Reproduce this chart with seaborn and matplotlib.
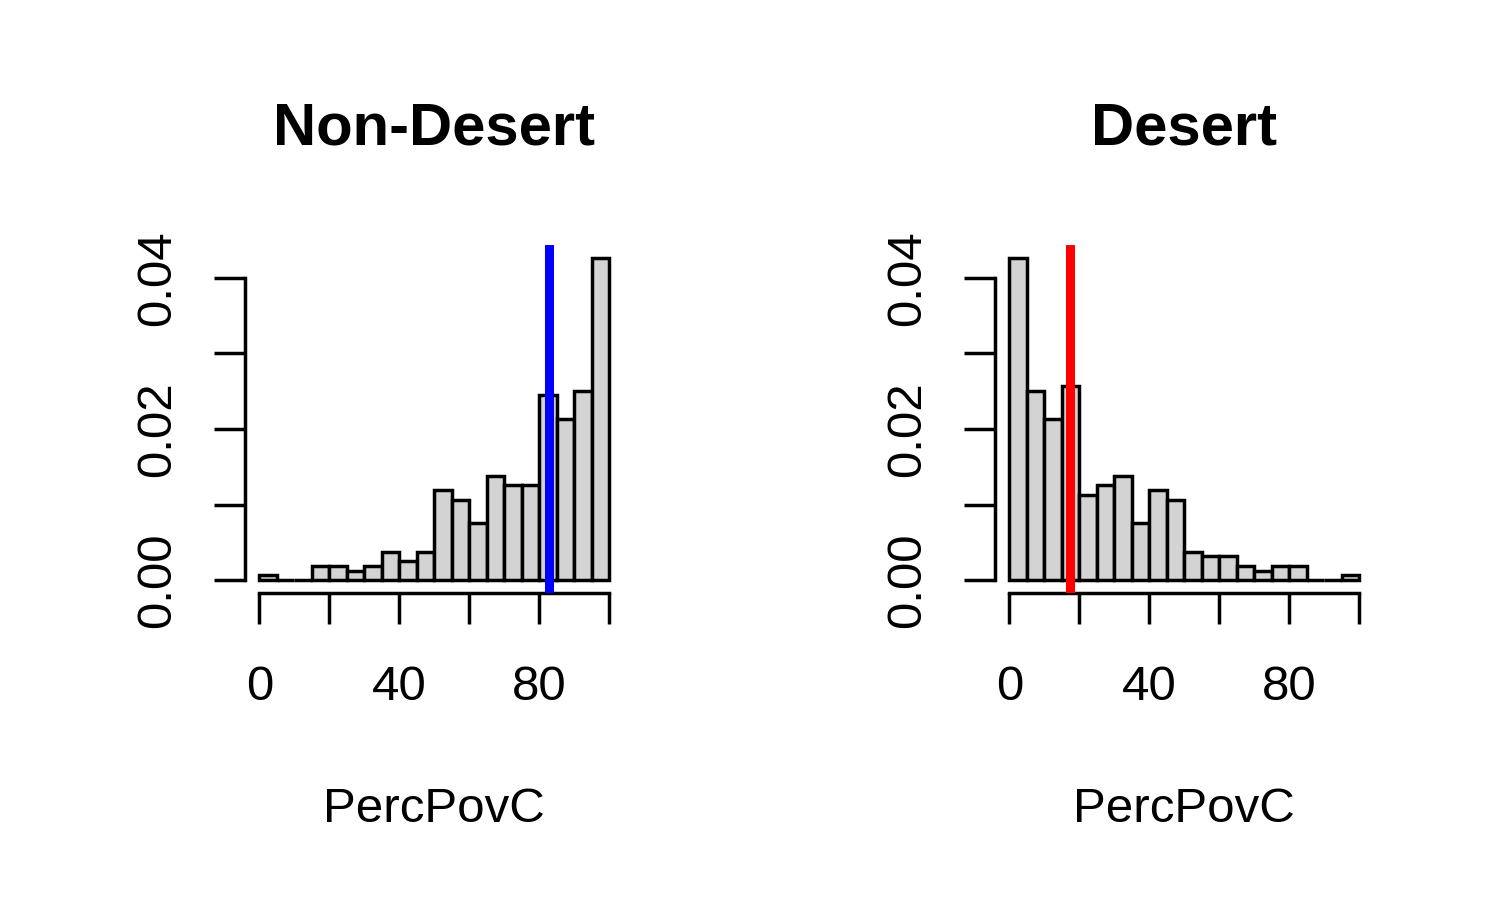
import numpy as np
import matplotlib
matplotlib.use("Agg")
import matplotlib.pyplot as plt
import seaborn as sns

# ---- data ----
bin_edges = list(range(0, 105, 5))
nondesert_counts = [1, 0, 0, 3, 3, 2, 3, 6, 4, 6, 19, 17, 12, 22, 20, 20, 39, 34, 40, 68]
desert_counts = [68, 40, 34, 41, 18, 20, 22, 12, 19, 17, 6, 5, 5, 3, 2, 3, 3, 0, 0, 1]
nondesert_line = 82.9
desert_line = 17.4
panel_titles = ["Non-Desert", "Desert"]
x_label = "PercPovC"
x_ticks = [0, 20, 40, 60, 80, 100]
x_ticklabels = ["0", "", "40", "", "80", ""]
y_ticks = [0.00, 0.01, 0.02, 0.03, 0.04]
y_ticklabels = ["0.00", "", "0.02", "", "0.04"]

sns.set_style("white")
plt.rcParams["font.family"] = ["Liberation Sans", "DejaVu Sans"]
plt.rcParams["text.color"] = "black"
plt.rcParams["axes.labelcolor"] = "black"
plt.rcParams["xtick.color"] = "black"
plt.rcParams["ytick.color"] = "black"

fig = plt.figure(figsize=(15, 9), dpi=100)
ax1 = fig.add_axes([0.1635, 0.3411, 0.252, 0.3867])
ax2 = fig.add_axes([0.6635, 0.3411, 0.252, 0.3867])

centers = [(bin_edges[i] + bin_edges[i + 1]) / 2 for i in range(len(bin_edges) - 1)]
LW = 2.5
FS = 35.5

for ax, counts, title, vline, vcol in [
    (ax1, nondesert_counts, panel_titles[0], nondesert_line, "#0000FF"),
    (ax2, desert_counts, panel_titles[1], desert_line, "#FF0000"),
]:
    sns.histplot(x=centers, weights=counts, bins=bin_edges, stat="density",
                 color="#D3D3D3", edgecolor="black", linewidth=LW, alpha=1,
                 ax=ax)
    dens_max = max(counts) / (sum(counts) * 5)
    ax.set_xlim(-4, 104)
    ax.set_ylim(-0.04 * dens_max, 1.04 * dens_max)
    ax.axvline(vline, color=vcol, linewidth=6.5, zorder=5)
    ax.set_xticks(x_ticks)
    ax.set_xticklabels(x_ticklabels)
    ax.set_yticks(y_ticks)
    ax.set_yticklabels(y_ticklabels, rotation=90, va="center")
    ax.set_ylabel("")
    ax.set_xlabel("")
    for s in ["top", "right"]:
        ax.spines[s].set_visible(False)
    ax.spines["left"].set_bounds(0, 0.04)
    ax.spines["bottom"].set_bounds(0, 100)
    for s in ["left", "bottom"]:
        ax.spines[s].set_linewidth(LW)
        ax.spines[s].set_color("black")
    ax.tick_params(axis="both", direction="out", length=22, width=LW,
                   labelsize=FS, colors="black", labelcolor="black",
                   left=True, bottom=True)
    ax.tick_params(axis="x", pad=30)
    ax.tick_params(axis="y", pad=25)
    ax.set_title(title, fontsize=43, fontweight="bold", pad=72, color="black")
    ax.text(0.5, -0.657, x_label, transform=ax.transAxes, ha="center",
            va="baseline", fontsize=FS, color="black")
    ax.grid(False)

fig.savefig("out.png", dpi=100)
